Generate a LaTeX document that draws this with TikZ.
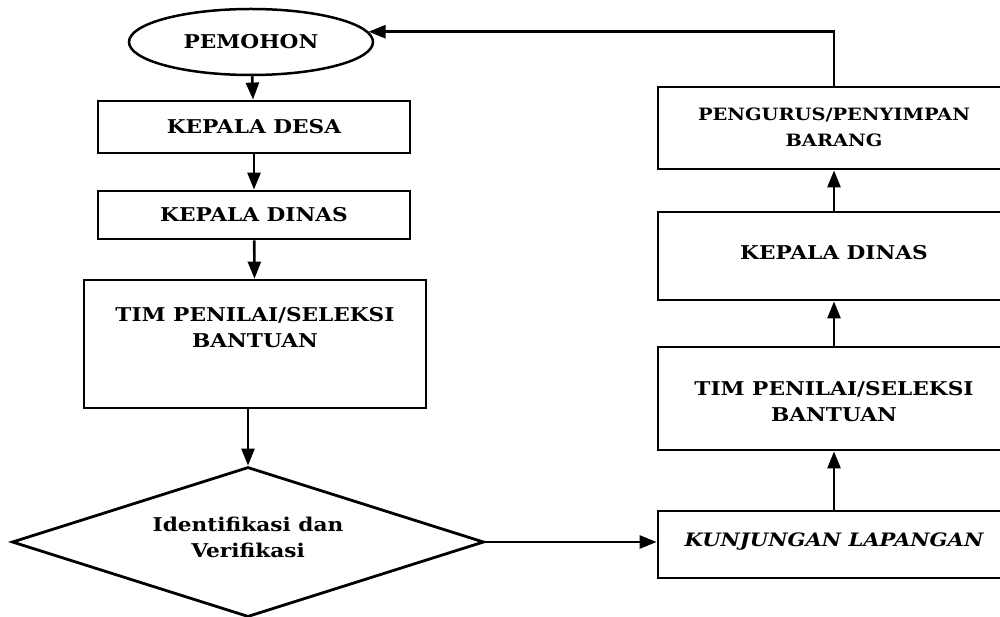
\documentclass[tikz,border=0pt]{standalone}
\usepackage{fontspec}
\setmainfont{DejaVu Serif}[FakeStretch=1.14]
\usetikzlibrary{arrows.meta,shapes.geometric}
\begin{document}
\begin{tikzpicture}[x=1pt,y=-1pt,
  lbl/.style={font=\bfseries\fontsize{19}{26}\selectfont},
  box/.style={draw,line width=2.8pt,rectangle,inner sep=0pt,align=center,lbl},
  one/.style={box,text height=13.9pt,text depth=#1},
  two/.style={box,text height=60pt,text depth=#1},
  lbox/.style={minimum width=312pt},
  rbox/.style={minimum width=352pt},
  arr/.style={line width=2.6pt,-{Triangle[length=17pt,width=13pt]}}]
\useasboundingbox (0,0) rectangle (1000,617);
\clip (0,0) rectangle (1000,617);
% left column
\node[ellipse,draw,line width=2.5pt,minimum width=244pt,minimum height=66pt,inner sep=0pt,lbl] (pem) at (251,42) {PEMOHON};
\node[one=0pt,lbox,minimum height=52pt] (desa) at (254,127) {KEPALA DESA};
\node[one=0pt,lbox,minimum height=48pt] (dinasL) at (254,215) {KEPALA DINAS};
\node[two=54pt,minimum width=342pt,minimum height=128pt] (timL) at (255,344) {TIM PENILAI/SELEKSI\\BANTUAN};
\node[diamond,draw,line width=2.8pt,minimum width=472pt,minimum height=150pt,aspect=3.15,inner sep=0pt,align=center,lbl,text height=40pt,text depth=10pt] (idv) at (248,542) {Identifikasi dan\\Verifikasi};
% right column
\node[two=22pt,rbox,minimum height=70pt,font=\bfseries\fontsize{17}{26}\selectfont] (peng) at (834,128) {PENGURUS/PENYIMPAN\\BARANG};
\node[one=5.9pt,rbox,minimum height=88pt] (dinasR) at (834,256) {KEPALA DINAS};
\node[two=15pt,rbox,minimum height=103pt] (timR) at (834,398.5) {TIM PENILAI/SELEKSI\\BANTUAN};
\node[one=10.9pt,rbox,minimum height=67pt,font=\bfseries\itshape\fontsize{18.5}{26}\selectfont] (kunj) at (834,544.5) {KUNJUNGAN LAPANGAN};
% connectors
\draw[arr] (pem) -- (desa);
\draw[arr] (desa) -- (dinasL);
\draw[arr] (dinasL) -- (timL);
\draw[arr] (timL.south -| idv.north) -- (idv.north);
\draw[arr] (idv.east) -- (kunj.west |- idv.east);
\draw[arr] (kunj) -- (timR);
\draw[arr] (timR) -- (dinasR);
\draw[arr] (dinasR) -- (peng);
\draw[arr] (peng.north) |- (pem.5);
\end{tikzpicture}
\end{document}
